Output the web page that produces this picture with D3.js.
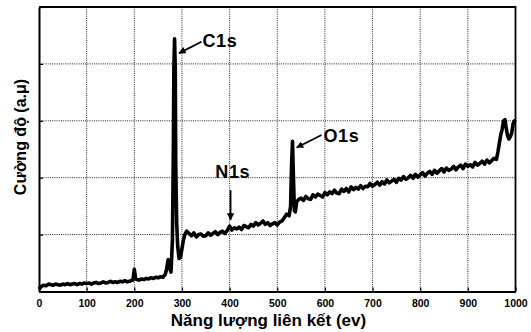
<!DOCTYPE html>
<html><head><meta charset="utf-8">
<script src="https://cdn.jsdelivr.net/npm/d3@7"></script>
<style>body{margin:0;background:#fff}svg{display:block}text{font-family:"Liberation Sans",Arial,sans-serif;font-weight:bold}</style>
</head><body>
<script>
const energy = [0,5,10,15,20,25,30,35,40,45,50,55,60,65,70,75,80,85,90,95,
100,105,110,115,120,125,130,135,140,145,150,155,160,165,170,175,180,185,190,195,
197,200,203,205,210,215,220,225,230,235,240,245,250,255,260,265,268,271,274,277,280,282,283,284.5,286,287,289,291,294,297,
300,303,306,310,315,320,325,330,335,340,345,350,355,360,365,370,375,380,385,390,395,400,405,410,415,420,425,430,435,440,445,
450,455,460,465,470,475,480,485,490,495,500,505,510,515,520,525,528,530,532,534,536,538,541,
545,550,555,560,565,570,575,580,585,590,595,
600,605,610,615,620,625,630,635,640,645,650,655,660,665,670,675,680,685,690,695,700,705,710,715,720,725,730,735,740,745,
750,755,760,765,770,775,780,785,790,795,800,805,810,815,820,825,830,835,840,845,850,855,860,865,870,875,880,885,890,895,
900,905,910,915,920,925,930,935,940,945,950,955,960,963,966,969,972,975,978,980,983,986,989,992,995,998,1000];
const intensity = [0.04,0.09,0.11,0.10,0.13,0.12,0.11,0.13,0.12,0.11,0.13,0.12,0.14,0.12,0.13,0.14,0.12,0.14,0.13,0.15,
0.14,0.15,0.13,0.15,0.16,0.14,0.15,0.17,0.15,0.16,0.18,0.16,0.17,0.16,0.18,0.17,0.19,0.17,0.18,0.20,
0.20,0.39,0.22,0.21,0.20,0.22,0.21,0.23,0.22,0.24,0.23,0.25,0.24,0.26,0.25,0.30,0.40,0.56,0.42,0.34,0.90,2.5,3.9,4.44,3.9,2.2,1.2,0.8,0.58,0.60,
0.75,0.90,1.00,1.06,1.02,0.98,1.03,0.96,1.00,1.01,0.97,0.98,1.03,0.99,1.02,1.05,1.00,1.04,1.06,1.02,1.07,1.15,1.08,1.12,1.10,1.13,1.09,1.16,1.14,1.12,1.18,
1.15,1.21,1.17,1.20,1.24,1.18,1.21,1.16,1.19,1.21,1.17,1.22,1.24,1.30,1.36,1.33,1.50,2.20,2.64,2.00,1.42,1.40,1.58,
1.62,1.64,1.60,1.67,1.63,1.62,1.70,1.66,1.71,1.69,1.66,
1.74,1.70,1.75,1.72,1.78,1.73,1.72,1.80,1.76,1.81,1.75,1.84,1.79,1.83,1.80,1.86,1.81,1.85,1.84,1.90,1.85,1.88,1.92,1.87,1.93,1.89,1.96,1.91,1.94,1.97,
1.92,1.99,1.96,2.02,1.97,2.00,2.04,1.99,2.06,2.01,2.05,2.09,2.03,2.08,2.11,2.06,2.13,2.08,2.12,2.16,2.10,2.17,2.13,2.15,2.20,2.14,2.19,2.22,2.16,2.24,
2.20,2.23,2.19,2.27,2.22,2.25,2.29,2.24,2.31,2.26,2.30,2.34,2.32,2.45,2.60,2.75,2.85,3.00,3.02,2.90,2.75,2.68,2.72,2.78,2.95,3.00,2.98];
const xTicks = [0,100,200,300,400,500,600,700,800,900,1000];
const yTicks = [0,1,2,3,4,5];
const peakLabels = ["C1s","N1s","O1s"];
const peakTextAt = [[343,4.30],[370,1.99],[597,2.63]];
const arrowFrom = [[341,4.39],[402,1.78],[593,2.75]];
const arrowTo = [[294,4.19],[402,1.26],[541,2.53]];
const xTitle = "Năng lượng liên kết (ev)";
const yTitle = "Cường độ (a.μ)";

const W=531,H=332, L=39, R=515.5, T=7, B=291.5;
const svg=d3.select("body").append("svg").attr("width",W).attr("height",H);
const x=d3.scaleLinear().domain([0,1000]).range([L,R]);
const y=d3.scaleLinear().domain([0,5]).range([B,T]);

// grid
svg.append("g").selectAll("line").data(xTicks.slice(1,-1)).join("line")
  .attr("x1",d=>x(d)).attr("x2",d=>x(d)).attr("y1",T).attr("y2",B)
  .attr("stroke","#222").attr("stroke-width",1).attr("stroke-dasharray","1,1.2");
svg.append("g").selectAll("line").data(yTicks.slice(1,-1)).join("line")
  .attr("y1",d=>y(d)).attr("y2",d=>y(d)).attr("x1",L).attr("x2",R)
  .attr("stroke","#222").attr("stroke-width",1).attr("stroke-dasharray","1,1.2");

// axes
const xa=svg.append("g").attr("transform",`translate(0,${B})`)
  .call(d3.axisBottom(x).tickValues(xTicks).tickFormat(d3.format("d")).tickSizeInner(-4).tickSizeOuter(0).tickPadding(8));
xa.select(".domain").attr("stroke","#000").attr("stroke-width",2);
xa.selectAll(".tick line").attr("stroke","#000").attr("stroke-width",1.2);
xa.selectAll("text").attr("font-size",10.5).attr("fill","#000").attr("font-weight","bold");
const ya=svg.append("g").attr("transform",`translate(${L},0)`)
  .call(d3.axisLeft(y).tickValues(yTicks).tickSizeInner(-4).tickSizeOuter(0).tickFormat(""));
ya.select(".domain").attr("stroke","#000").attr("stroke-width",2);
ya.selectAll(".tick line").attr("stroke","#000").attr("stroke-width",1.2);
// top & right frame
svg.append("path").attr("d",`M${L},${T}H${R}V${B}`).attr("fill","none").attr("stroke","#000").attr("stroke-width",1.8);

// data
svg.append("path").datum(energy.map((e,i)=>[e,intensity[i]]))
  .attr("d",d3.line().x(d=>x(d[0])).y(d=>y(d[1])))
  .attr("fill","none").attr("stroke","#000").attr("stroke-width",3.6).attr("stroke-linejoin","round");

// arrows
svg.append("defs").append("marker").attr("id","ah").attr("viewBox","0 0 10 10").attr("refX",9).attr("refY",5)
  .attr("markerWidth",4).attr("markerHeight",4).attr("orient","auto")
  .append("path").attr("d","M0,0L10,5L0,10z").attr("fill","#000");
svg.append("g").selectAll("line").data(arrowFrom).join("line")
  .attr("x1",d=>x(d[0])).attr("y1",d=>y(d[1]))
  .attr("x2",(d,i)=>x(arrowTo[i][0])).attr("y2",(d,i)=>y(arrowTo[i][1]))
  .attr("stroke","#000").attr("stroke-width",1.8).attr("marker-end","url(#ah)");
svg.append("g").selectAll("text").data(peakLabels).join("text")
  .attr("x",(d,i)=>x(peakTextAt[i][0])).attr("y",(d,i)=>y(peakTextAt[i][1]))
  .attr("font-size",18).attr("letter-spacing",0.6).attr("fill","#000").text(d=>d);

// titles
svg.append("text").attr("x",268.5).attr("y",326).attr("text-anchor","middle")
  .attr("font-size",17).attr("fill","#000").text(xTitle);
svg.append("text").attr("transform","translate(25.5,137) rotate(-90)").attr("text-anchor","middle")
  .attr("font-size",16).attr("fill","#000").text(yTitle);
</script>
</body></html>
